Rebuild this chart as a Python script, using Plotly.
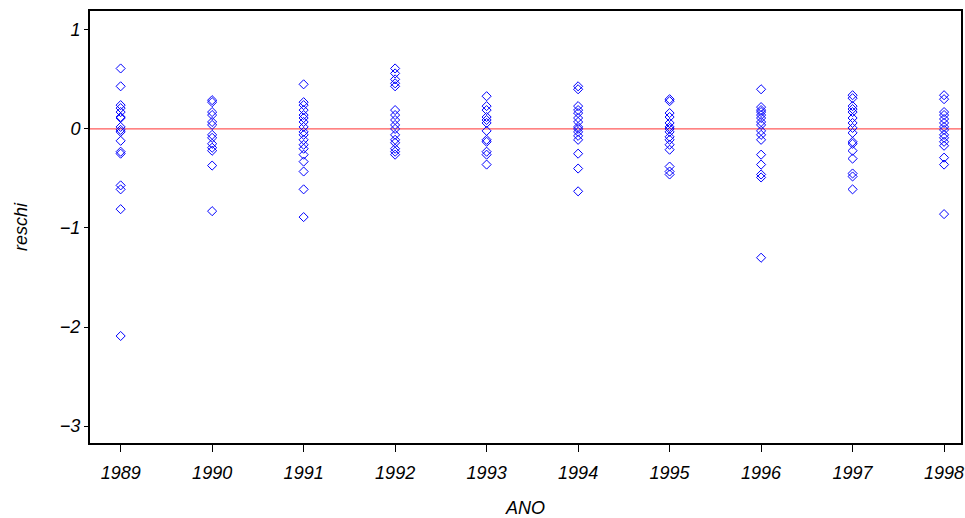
import plotly.graph_objects as go

years = [1989, 1990, 1991, 1992, 1993, 1994, 1995, 1996, 1997, 1998]

res_1989 = [0.61, 0.43, 0.24, 0.21, 0.17, 0.12, 0.11, 0.02, -0.01, -0.03, -0.12, -0.23, -0.25, -0.57, -0.61, -0.81, -2.09]
res_1990 = [0.29, 0.27, 0.17, 0.14, 0.07, 0.04, -0.06, -0.09, -0.15, -0.19, -0.22, -0.37, -0.83]
res_1991 = [0.45, 0.27, 0.24, 0.19, 0.14, 0.11, 0.07, 0.02, -0.03, -0.06, -0.11, -0.16, -0.20, -0.26, -0.33, -0.43, -0.61, -0.89]
res_1992 = [0.61, 0.56, 0.50, 0.46, 0.43, 0.19, 0.14, 0.09, 0.04, 0.00, -0.06, -0.11, -0.14, -0.20, -0.23, -0.26]
res_1993 = [0.33, 0.23, 0.19, 0.12, 0.09, 0.06, -0.02, -0.11, -0.13, -0.23, -0.26, -0.36]
res_1994 = [0.43, 0.40, 0.23, 0.19, 0.16, 0.11, 0.07, 0.02, 0.00, -0.03, -0.07, -0.11, -0.25, -0.40, -0.63]
res_1995 = [0.30, 0.28, 0.16, 0.12, 0.06, 0.02, 0.00, -0.03, -0.08, -0.11, -0.16, -0.21, -0.38, -0.43, -0.46]
res_1996 = [0.40, 0.22, 0.19, 0.17, 0.14, 0.11, 0.07, 0.04, -0.02, -0.06, -0.11, -0.26, -0.36, -0.46, -0.49, -1.30]
res_1997 = [0.34, 0.31, 0.23, 0.20, 0.17, 0.11, 0.06, 0.01, -0.04, -0.13, -0.15, -0.22, -0.30, -0.45, -0.48, -0.61]
res_1998 = [0.34, 0.30, 0.17, 0.14, 0.10, 0.06, 0.02, -0.01, -0.06, -0.09, -0.13, -0.17, -0.29, -0.36, -0.86]

all_res = [res_1989, res_1990, res_1991, res_1992, res_1993, res_1994,
           res_1995, res_1996, res_1997, res_1998]

xs, ys = [], []
for yr, vals in zip(years, all_res):
    xs += [yr] * len(vals)
    ys += vals

font = dict(family="Liberation Sans, Arial, sans-serif", size=18, color="black")

fig = go.Figure()
fig.add_trace(go.Scatter(
    x=xs, y=ys, mode="markers",
    marker=dict(symbol="diamond-open", size=7, color="#0000ff", line=dict(width=1)),
    showlegend=False,
))
fig.add_shape(type="line", xref="paper", yref="y", x0=0, x1=1, y0=0, y1=0,
              line=dict(color="#ff5a5a", width=1.2), layer="below")

fig.update_layout(
    width=965, height=518,
    margin=dict(l=90, r=2, t=11, b=75),
    paper_bgcolor="white", plot_bgcolor="white",
    font=font,
)
fig.update_xaxes(
    range=[1988.665, 1998.185],
    tickvals=years, ticktext=[f"<i>{y}</i>" for y in years],
    ticks="outside", ticklen=7, tickwidth=1, tickcolor="black",
    ticklabelstandoff=5,
    showline=True, mirror=True, linecolor="black", linewidth=2,
    showgrid=False, zeroline=False,
    title=dict(text="<i>ANO</i>", font=font, standoff=21),
)
fig.update_yaxes(
    range=[-3.17, 1.19],
    tickvals=[1, 0, -1, -2, -3],
    ticktext=["<i>1</i>", "<i>0</i>", "<i>−1</i>", "<i>−2</i>", "<i>−3</i>"],
    ticks="outside", ticklen=4, tickwidth=1, tickcolor="black",
    showline=True, mirror=True, linecolor="black", linewidth=2,
    showgrid=False, zeroline=False,
    title=dict(text="<i>reschi</i>", font=font, standoff=28),
)

fig.write_html("out.html", config={"displayModeBar": False},
               post_script="document.body.style.margin='0px';")
